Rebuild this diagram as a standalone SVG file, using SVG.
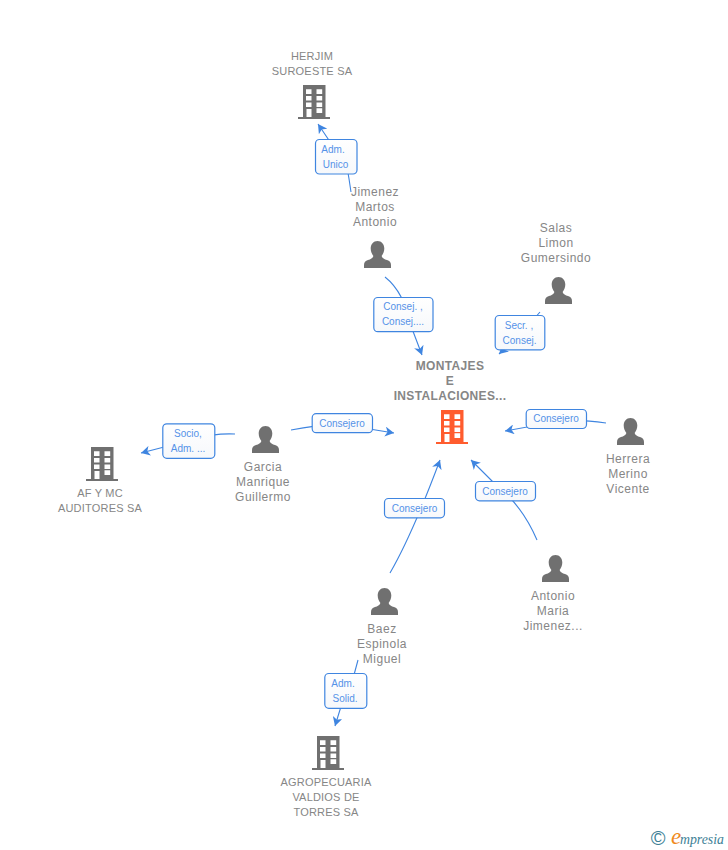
<svg xmlns="http://www.w3.org/2000/svg" xmlns:xlink="http://www.w3.org/1999/xlink" width="728" height="850" viewBox="0 0 728 850">
<style>
text{font-family:"Liberation Sans",Arial,sans-serif;text-anchor:middle}
.co{font-size:11px;fill:#868686;letter-spacing:.2px}
.pe{font-size:12px;fill:#868686;letter-spacing:.5px}
.main{font-size:12px;font-weight:bold;fill:#868686;letter-spacing:.35px}
.lb{font-size:10px;fill:#5592e8}
.edge{fill:none;stroke:#3f85e0;stroke-width:1.1;marker-end:url(#ah)}
.box{fill:url(#bg);stroke:#3f85e0;stroke-width:1.2}
.logo{font-family:"Liberation Serif",serif;font-style:italic;text-anchor:start}
</style>
<defs>
<linearGradient id="bg" x1="0" y1="0" x2="0" y2="1"><stop offset="0" stop-color="#ffffff"/><stop offset="1" stop-color="#f6f8fb"/></linearGradient>
<marker id="ah" markerUnits="userSpaceOnUse" markerWidth="10" markerHeight="10" refX="9" refY="5" orient="auto" viewBox="0 0 10 10"><path d="M0 0L9 5L0 10L2.5 5Z" fill="#3f85e0"/></marker>
<g id="bld"><path d="M5 0H27.5V32H32V34H0V32H5Z"/><path fill="#fff" d="M8 4.300H13.500V9H8ZM18.500 4.300H24.200V9H18.500ZM8 11H13.500V15.500H8ZM18.500 11H24.200V15.500H18.500ZM8 17.500H13.500V22H8ZM18.500 17.500H24.200V22H18.500ZM18.500 23.300H24.200V28H18.500ZM8.500 24H13.500V32H8.500Z"/></g>
<g id="per"><path d="M13.500 0C17.600 0 20.300 3.200 20.300 7.600C20.300 10.800 19 13.400 17.600 15C18.200 17.300 20.500 18.200 23 19.100C25.600 20.100 27 21.300 27 24V27H0V24C0 21.300 1.400 20.100 4 19.100C6.500 18.200 8.800 17.300 9.400 15C8 13.400 6.700 10.800 6.700 7.600C6.700 3.200 9.400 0 13.500 0Z"/></g>
</defs>
<rect width="728" height="850" fill="#fff"/>
<g id="connectors">
<path class="edge" d="M351 192Q349 178 347 167L318 124"/>
<path class="edge" d="M385 277Q404 292 411 326L422 355"/>
<path class="edge" d="M540 312Q525 330 499 354"/>
<path class="edge" d="M606 423Q580 419 560 421L505 431"/>
<path class="edge" d="M291 430Q320 424 345 425L394 433"/>
<path class="edge" d="M235 434Q215 433 195 439L141 453"/>
<path class="edge" d="M390 573Q412 535 440 460"/>
<path class="edge" d="M537 540Q522 505 495 484L471 460"/>
<path class="edge" d="M358 660Q352 685 343 700L335 726"/>
<g>
<rect class="box" x="315.500" y="139.500" width="41.500" height="34.500" rx="4"/><text class="lb" x="333" y="153">Adm.</text><text class="lb" x="335.500" y="168">Unico</text>
<rect class="box" x="373.800" y="297.500" width="59.200" height="34.200" rx="4"/><text class="lb" x="403" y="310">Consej. ,</text><text class="lb" x="403" y="325">Consej....</text>
<rect class="box" x="495.200" y="315.500" width="49.600" height="34.300" rx="4"/><text class="lb" x="519" y="329">Secr. ,</text><text class="lb" x="519.500" y="344">Consej.</text>
<rect class="box" x="526.200" y="409.500" width="60.300" height="19" rx="4"/><text class="lb" x="556" y="422">Consejero</text>
<rect class="box" x="312.200" y="413.700" width="60.300" height="19" rx="4"/><text class="lb" x="342" y="427">Consejero</text>
<rect class="box" x="162.800" y="423.800" width="52" height="34.500" rx="4"/><text class="lb" x="188" y="437">Socio,</text><text class="lb" x="188" y="452">Adm. ...</text>
<rect class="box" x="324.800" y="673.500" width="42" height="34.800" rx="4"/><text class="lb" x="343" y="687">Adm.</text><text class="lb" x="345" y="702">Solid.</text>
<rect class="box" x="384.500" y="498.500" width="60" height="19.300" rx="4"/><text class="lb" x="414.500" y="512">Consejero</text>
<rect class="box" x="475.500" y="481.500" width="60" height="19.300" rx="4"/><text class="lb" x="505" y="495">Consejero</text>
</g>
</g>
<g id="n-montajes"><use xlink:href="#bld" href="#bld" x="436" y="410" fill="#ff5c2e"/><text class="main" x="450" y="370">MONTAJES</text><text class="main" x="450" y="385">E</text><text class="main" x="450" y="400">INSTALACIONES...</text></g>
<g id="n-herjim"><use href="#bld" x="298" y="85" fill="#707070"/><text class="co" x="312" y="60">HERJIM</text><text class="co" x="312" y="75">SUROESTE SA</text></g>
<g id="n-af"><use href="#bld" x="86" y="447" fill="#707070"/><text class="co" x="100" y="497">AF Y MC</text><text class="co" x="100" y="512">AUDITORES SA</text></g>
<g id="n-agro"><use href="#bld" x="312" y="736" fill="#707070"/><text class="co" x="326" y="786">AGROPECUARIA</text><text class="co" x="326" y="801">VALDIOS DE</text><text class="co" x="326" y="816">TORRES SA</text></g>
<g id="n-jimenez"><use href="#per" x="364" y="241" fill="#707070"/><text class="pe" x="375" y="196">Jimenez</text><text class="pe" x="375" y="211">Martos</text><text class="pe" x="375" y="226">Antonio</text></g>
<g id="n-salas"><use href="#per" x="545" y="277" fill="#707070"/><text class="pe" x="556" y="232">Salas</text><text class="pe" x="556" y="247">Limon</text><text class="pe" x="556" y="262">Gumersindo</text></g>
<g id="n-herrera"><use href="#per" x="617" y="418" fill="#707070"/><text class="pe" x="628" y="463">Herrera</text><text class="pe" x="628" y="478">Merino</text><text class="pe" x="628" y="493">Vicente</text></g>
<g id="n-garcia"><use href="#per" x="252" y="426" fill="#707070"/><text class="pe" x="263" y="471">Garcia</text><text class="pe" x="263" y="486">Manrique</text><text class="pe" x="263" y="501">Guillermo</text></g>
<g id="n-antonio"><use href="#per" x="542" y="555" fill="#707070"/><text class="pe" x="553" y="600">Antonio</text><text class="pe" x="553" y="615">Maria</text><text class="pe" x="553" y="630">Jimenez...</text></g>
<g id="n-baez"><use href="#per" x="371" y="588" fill="#707070"/><text class="pe" x="382" y="633">Baez</text><text class="pe" x="382" y="648">Espinola</text><text class="pe" x="382" y="663">Miguel</text></g>
<g id="logo"><text x="658" y="845" style="font-size:20px;fill:#3d7f96">©</text><text class="logo" x="671" y="844" style="font-size:23px;fill:#f08a1d">e</text><text class="logo" x="680" y="844" style="font-size:13.800px;fill:#3d7f96">mpresia</text></g>
</svg>
